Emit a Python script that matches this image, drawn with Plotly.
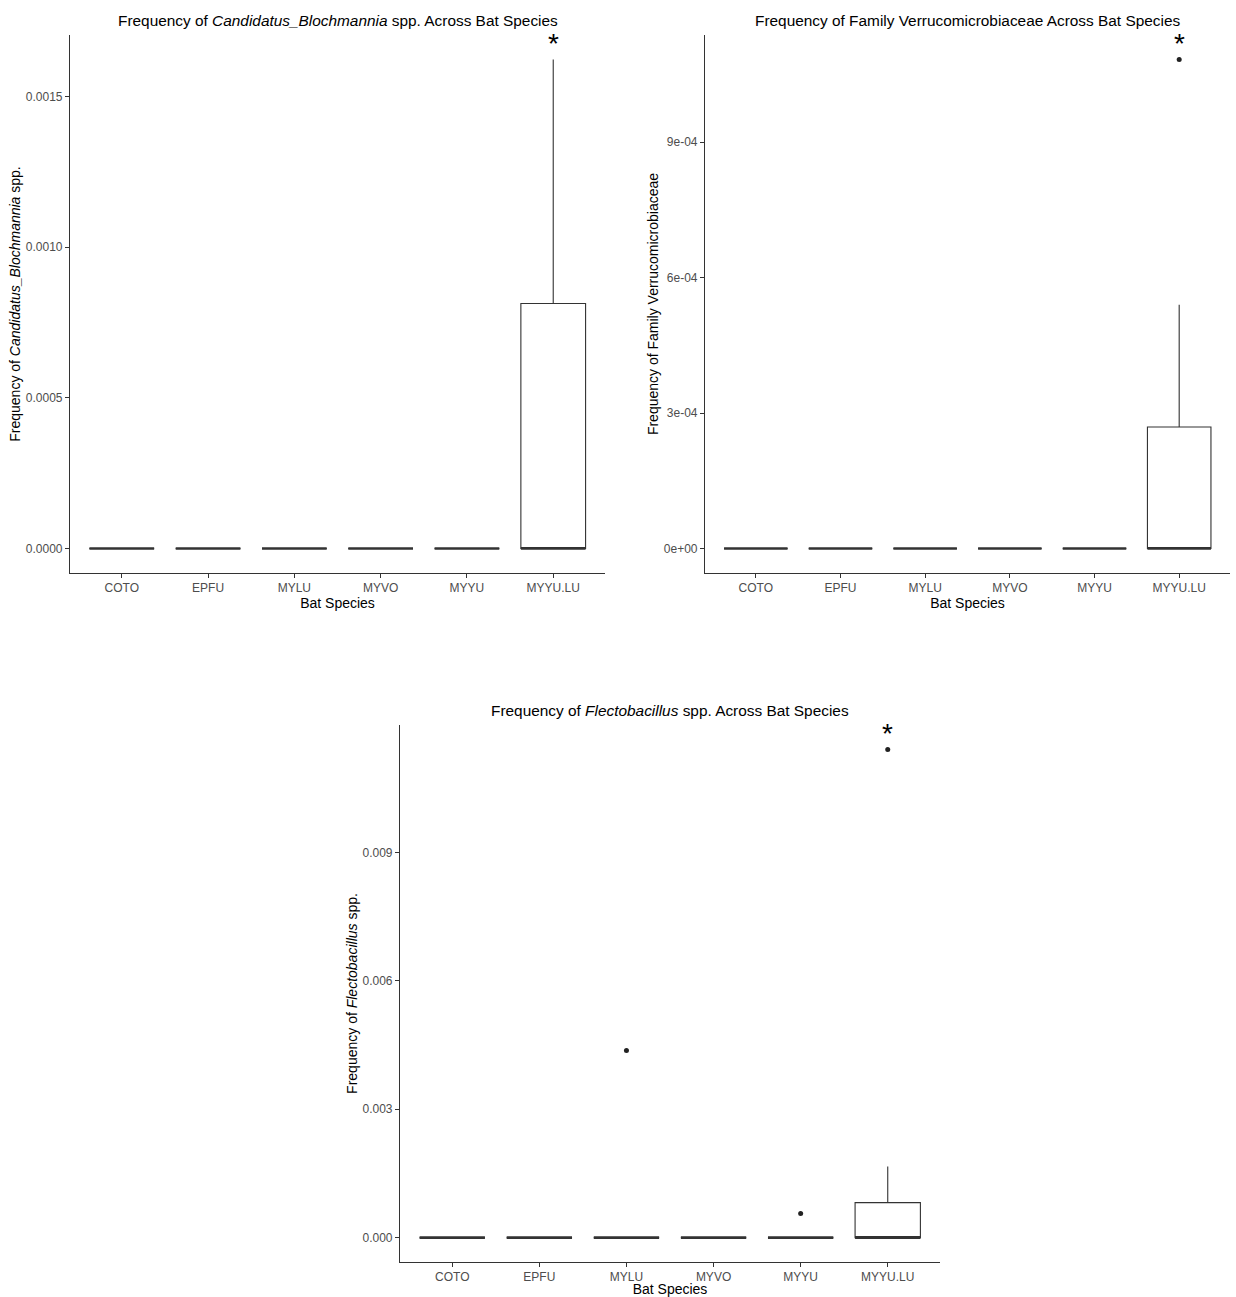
import plotly.graph_objects as go

categories = ["COTO", "EPFU", "MYLU", "MYVO", "MYYU", "MYYU.LU"]

# Panel 1: Candidatus_Blochmannia
p1_q1 = [0, 0, 0, 0, 0, 0]
p1_median = [0, 0, 0, 0, 0, 0]
p1_q3 = [0, 0, 0, 0, 0, 0.000813]
p1_lower = [0, 0, 0, 0, 0, 0]
p1_upper = [0, 0, 0, 0, 0, 0.001623]
p1_out_x = []
p1_out_y = []
p1_ticks = [0.0, 0.0005, 0.0010, 0.0015]
p1_ticktext = ["0.0000", "0.0005", "0.0010", "0.0015"]

# Panel 2: Family Verrucomicrobiaceae
p2_q1 = [0, 0, 0, 0, 0, 0]
p2_median = [0, 0, 0, 0, 0, 0]
p2_q3 = [0, 0, 0, 0, 0, 0.000269]
p2_lower = [0, 0, 0, 0, 0, 0]
p2_upper = [0, 0, 0, 0, 0, 0.000540]
p2_out_x = ["MYYU.LU"]
p2_out_y = [0.001083]
p2_ticks = [0.0, 0.0003, 0.0006, 0.0009]
p2_ticktext = ["0e+00", "3e-04", "6e-04", "9e-04"]

# Panel 3: Flectobacillus
p3_q1 = [0, 0, 0, 0, 0, 0]
p3_median = [0, 0, 0, 0, 0, 0]
p3_q3 = [0, 0, 0, 0, 0, 0.000818]
p3_lower = [0, 0, 0, 0, 0, 0]
p3_upper = [0, 0, 0, 0, 0, 0.00166]
p3_out_x = ["MYLU", "MYYU", "MYYU.LU"]
p3_out_y = [0.004372, 0.000561, 0.01141]
p3_ticks = [0.0, 0.003, 0.006, 0.009]
p3_ticktext = ["0.000", "0.003", "0.006", "0.009"]

titles = [
    "Frequency of <i>Candidatus_Blochmannia</i> spp. Across Bat Species",
    "Frequency of Family Verrucomicrobiaceae Across Bat Species",
    "Frequency of <i>Flectobacillus</i> spp. Across Bat Species",
]
ytitles = [
    "Frequency of <i>Candidatus_Blochmannia</i> spp.",
    "Frequency of Family Verrucomicrobiaceae",
    "Frequency of <i>Flectobacillus</i> spp.",
]
xtitle = "Bat Species"
star_label = "*"
star_category = "MYYU.LU"

W, H = 1236, 1297
FONT = "Liberation Sans, Arial, sans-serif"
LINE = "#333333"


def xd(a, b):
    return [a / W, b / W]


def yd(top, bottom):
    return [1 - bottom / H, 1 - top / H]


panels = [
    dict(q1=p1_q1, med=p1_median, q3=p1_q3, lo=p1_lower, hi=p1_upper, ox=p1_out_x, oy=p1_out_y,
         tv=p1_ticks, tt=p1_ticktext, xd=xd(70, 605), yd=yd(35, 573)),
    dict(q1=p2_q1, med=p2_median, q3=p2_q3, lo=p2_lower, hi=p2_upper, ox=p2_out_x, oy=p2_out_y,
         tv=p2_ticks, tt=p2_ticktext, xd=xd(705, 1230), yd=yd(35, 573)),
    dict(q1=p3_q1, med=p3_median, q3=p3_q3, lo=p3_lower, hi=p3_upper, ox=p3_out_x, oy=p3_out_y,
         tv=p3_ticks, tt=p3_ticktext, xd=xd(400, 940), yd=yd(725, 1262)),
]

fig = go.Figure()
layout = dict(
    width=W, height=H, margin=dict(l=0, r=0, t=0, b=0),
    paper_bgcolor="white", plot_bgcolor="white", showlegend=False,
    boxmode="overlay", font=dict(family=FONT, color="black"),
    annotations=[],
)

for i, p in enumerate(panels):
    n = "" if i == 0 else str(i + 1)
    xa, ya = "x" + n, "y" + n
    fig.add_trace(go.Box(
        x=categories, q1=p["q1"], median=p["med"], q3=p["q3"],
        lowerfence=p["lo"], upperfence=p["hi"], width=0.75, whiskerwidth=0,
        boxpoints=False, fillcolor="white", line=dict(color=LINE, width=1.1),
        xaxis=xa, yaxis=ya, hoverinfo="skip"))
    # thicker median line (ggplot fatten)
    fig.add_trace(go.Box(
        x=categories, q1=p["med"], median=p["med"], q3=p["med"],
        lowerfence=p["med"], upperfence=p["med"], width=0.75, whiskerwidth=0,
        boxpoints=False, fillcolor="rgba(0,0,0,0)", line=dict(color=LINE, width=2.6),
        xaxis=xa, yaxis=ya, hoverinfo="skip"))
    if p["ox"]:
        fig.add_trace(go.Scatter(
            x=p["ox"], y=p["oy"], mode="markers",
            marker=dict(color="#222222", size=5), xaxis=xa, yaxis=ya, hoverinfo="skip"))

    allv = p["lo"] + p["hi"] + p["oy"]
    vmin, vmax = min(allv), max(allv)
    span = vmax - vmin
    yr = [vmin - 0.05 * span, vmax + 0.05 * span]

    axis_common = dict(
        showline=True, linecolor=LINE, linewidth=1.1, ticks="outside", ticklen=4,
        tickcolor=LINE, tickwidth=1.1, showgrid=False, zeroline=False,
        tickfont=dict(family=FONT, size=12, color="#4D4D4D"),
    )
    layout["xaxis" + n] = dict(
        axis_common, domain=p["xd"], anchor=ya, type="category",
        categoryorder="array", categoryarray=categories, range=[-0.6, 5.6],
        title=dict(text=xtitle, font=dict(family=FONT, size=14, color="black"), standoff=0),
    )
    layout["yaxis" + n] = dict(
        axis_common, domain=p["yd"], anchor=xa, range=yr,
        tickvals=p["tv"], ticktext=p["tt"],
        title=dict(text=ytitles[i], font=dict(family=FONT, size=14, color="black"), standoff=1),
    )
    # panel title
    layout["annotations"].append(dict(
        text=titles[i], xref="paper", yref="paper",
        x=(p["xd"][0] + p["xd"][1]) / 2, y=p["yd"][1], yshift=4,
        xanchor="center", yanchor="bottom", showarrow=False,
        font=dict(family=FONT, size=15.4, color="black")))
    # significance star
    layout["annotations"].append(dict(
        text=star_label, xref=xa, yref=ya, x=star_category, y=vmax, yshift=16,
        xanchor="center", yanchor="middle", showarrow=False,
        font=dict(family=FONT, size=28, color="black")))

fig.update_layout(**layout)
fig.write_html(
    "out.html",
    config={"displayModeBar": False},
    post_script="document.body.style.margin='0';document.body.style.overflow='hidden';",
)
